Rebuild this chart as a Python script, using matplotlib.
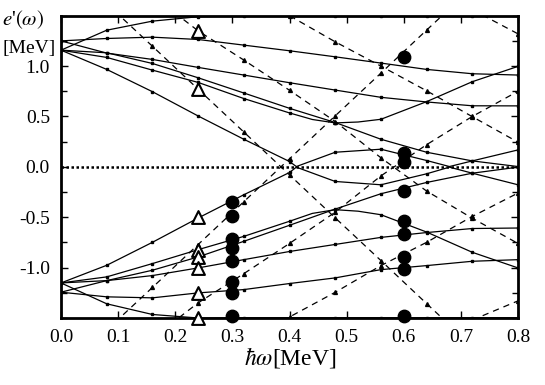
import matplotlib
matplotlib.use("Agg")
import matplotlib.pyplot as plt
import numpy as np

plt.rcParams['font.family'] = ['Liberation Serif', 'DejaVu Serif']
plt.rcParams['mathtext.fontset'] = 'stix'

# calculation mesh (MeV)
W = [0.0, 0.08, 0.16, 0.24, 0.32, 0.40, 0.48, 0.56, 0.64, 0.72, 0.80]

# ---- solid Routhians (upper half) ----
A_up = [1.158, 1.356, 1.446, 1.490, 1.497, 1.498, 1.498, 1.498, 1.497, 1.497, 1.496]
B_up = [1.250, 1.274, 1.287, 1.264, 1.208, 1.152, 1.092, 1.030, 0.967, 0.924, 0.911]
C_up = [1.250, 1.129, 1.066, 0.987, 0.911, 0.835, 0.762, 0.690, 0.644, 0.606, 0.605]
Q_up = [1.158, 1.132, 1.026, 0.884, 0.733, 0.581, 0.440, 0.274, 0.145, 0.059, 0.003]
R_up_w = [0.0, 0.08, 0.16, 0.24, 0.32, 0.40, 0.44, 0.48, 0.52, 0.56, 0.64, 0.72, 0.80]
R_up = [1.158, 1.086, 0.960, 0.838, 0.678, 0.535, 0.470, 0.436, 0.445, 0.472, 0.647, 0.845, 0.997]
E_up_w = [0.0, 0.08, 0.16, 0.24, 0.32, 0.40, 0.412, 0.48, 0.56, 0.64, 0.68, 0.72, 0.80]
E_up = [1.158, 0.967, 0.746, 0.505, 0.274, 0.053, 0.003, 0.145, 0.175, 0.063, 0.003, 0.059, 0.168]

# ---- solid Routhians (lower half) ----
A_lo = [-1.152, -1.359, -1.465, -1.500, -1.497, -1.497, -1.497, -1.497, -1.497, -1.497, -1.497]
B_lo = [-1.244, -1.290, -1.300, -1.251, -1.218, -1.158, -1.102, -1.020, -0.980, -0.937, -0.921]
C_lo = [-1.244, -1.129, -1.079, -1.003, -0.921, -0.840, -0.770, -0.700, -0.652, -0.612, -0.607]
Q_lo = [-1.152, -1.129, -1.026, -0.894, -0.739, -0.580, -0.419, -0.267, -0.155, -0.063, -0.003]
R_lo_w = [0.0, 0.08, 0.16, 0.24, 0.32, 0.40, 0.44, 0.48, 0.52, 0.56, 0.64, 0.72, 0.80]
R_lo = [-1.152, -1.092, -0.960, -0.822, -0.690, -0.540, -0.462, -0.425, -0.440, -0.475, -0.647, -0.848, -1.003]
E_lo_w = [0.0, 0.08, 0.16, 0.24, 0.32, 0.40, 0.412, 0.48, 0.56, 0.64, 0.68, 0.72, 0.80]
E_lo = [-1.152, -0.977, -0.749, -0.508, -0.277, -0.056, -0.003, -0.145, -0.178, -0.069, -0.003, -0.063, -0.178]

# ---- dashed Routhians ----
L1_w = [0.08, 0.16, 0.24, 0.32, 0.40, 0.48, 0.56, 0.64, 0.72]
L1 = [1.62, 1.197, 0.771, 0.346, -0.080, -0.506, -0.930, -1.357, -1.780]
L1b = [-1.62, -1.197, -0.771, -0.346, 0.080, 0.506, 0.930, 1.357, 1.780]
L2_w = [0.16, 0.24, 0.32, 0.40, 0.48, 0.56, 0.64, 0.72, 0.80]
L2 = [1.70, 1.35, 1.06, 0.76, 0.45, 0.09, -0.24, -0.51, -0.76]
L2b = [-1.70, -1.35, -1.06, -0.76, -0.45, -0.09, 0.22, 0.50, 0.75]
L3_w = [0.32, 0.40, 0.48, 0.56, 0.64, 0.72, 0.80]
L3 = [1.76, 1.50, 1.241, 1.00, 0.755, 0.498, 0.245]
L3b = [-1.76, -1.49, -1.245, -0.98, -0.749, -0.492, -0.260]
L4_w = [0.72, 0.80]
L4 = [1.56, 1.32]
L4b = [-1.52, -1.33]

# ---- symbols ----
tri_w = [0.24] * 8
tri_y = [1.347, 0.769, -0.502, -0.822, -0.894, -1.003, -1.251, -1.498]
dot_w = [0.30] * 8 + [0.60] * 9
dot_y = [-0.353, -0.485, -0.720, -0.805, -0.937, -1.140, -1.251, -1.482,
         1.092, 0.142, 0.053, -0.240, -0.541, -0.667, -0.898, -1.013, -1.482]

xticks = [0.0, 0.1, 0.2, 0.3, 0.4, 0.5, 0.6, 0.7, 0.8]
xticklabels = ['0.0', '0.1', '0.2', '0.3', '0.4', '0.5', '0.6', '0.7', '0.8']
yticks = [-1.0, -0.5, 0.0, 0.5, 1.0]
yticklabels = ['-1.0', '-0.5', '0.0', '0.5', '1.0']

fig = plt.figure(figsize=(5.45, 3.85), dpi=100)
ax = fig.add_axes([61 / 545, 1 - 318 / 385, (518 - 61) / 545, (318 - 15.7) / 385])


def mesh_mask(ws):
    return [i for i, w in enumerate(ws) if abs(w / 0.08 - round(w / 0.08)) < 1e-6]


solid = [(W, A_up), (W, B_up), (W, C_up), (W, Q_up), (R_up_w, R_up), (E_up_w, E_up),
         (W, A_lo), (W, B_lo), (W, C_lo), (W, Q_lo), (R_lo_w, R_lo), (E_lo_w, E_lo)]
for ws, ys in solid:
    ax.plot(ws, ys, color='black', lw=0.9, marker='s', ms=1.8,
            markevery=mesh_mask(ws), zorder=3)

dashed = [(L1_w, L1), (L1_w, L1b), (L2_w, L2), (L2_w, L2b),
          (L3_w, L3), (L3_w, L3b), (L4_w, L4), (L4_w, L4b)]
for ws, ys in dashed:
    ax.plot(ws, ys, color='black', lw=0.9, ls=(0, (5, 4)), marker='^', ms=2.8,
            zorder=3)

ax.plot([0, 0.8], [0, 0], color='black', lw=1.8, ls=(0, (1, 1)), zorder=2)

ax.scatter(tri_w, tri_y, marker='^', s=85, facecolor='white', edgecolor='black',
           linewidth=1.5, zorder=5, clip_on=False)
ax.scatter(dot_w, dot_y, marker='o', s=80, color='black', zorder=5, clip_on=False)

ax.set_xlim(0, 0.8)
ax.set_ylim(-1.5, 1.5)
ax.set_xticks(xticks)
ax.set_xticklabels(xticklabels)
ax.set_yticks(yticks)
ax.set_yticklabels(yticklabels)
ax.set_yticks(np.arange(-1.5, 1.51, 0.25), minor=True)
ax.tick_params(axis='both', which='both', direction='in', top=True, right=True,
               labelsize=14, width=1.0)
ax.tick_params(which='major', length=5, pad=8)
ax.tick_params(which='minor', length=4)
for sp in ax.spines.values():
    sp.set_linewidth(2.0)

fig.text(0.004, 1 - 20 / 385, r"$e$'$(\omega)$", fontsize=15, va='center', ha='left')
fig.text(0.004, 1 - 48 / 385, "[MeV]", fontsize=14, va='center', ha='left')
fig.text(290 / 545, 1 - 357 / 385, r"$\hbar\omega$[MeV]", fontsize=17,
         va='center', ha='center')

fig.savefig("out.png", dpi=100)
